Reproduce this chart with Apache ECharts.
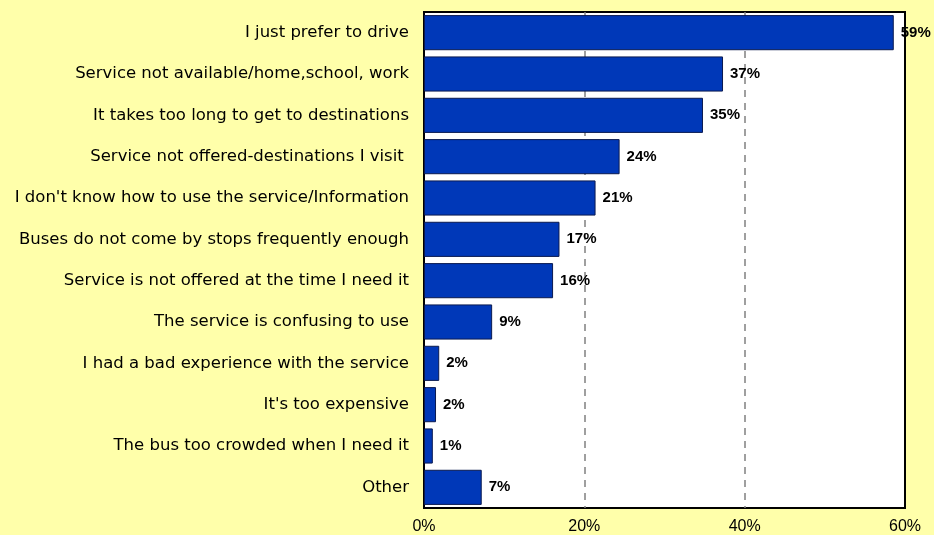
<!DOCTYPE html>
<html><head><meta charset="utf-8">
<script src="https://cdn.jsdelivr.net/npm/echarts@6/dist/echarts.min.js"></script>
<style>html,body{margin:0;padding:0;background:#FFFFAA;}#c{width:934px;height:535px;}</style>
</head><body><div id="c"></div>
<script>
const categories = [
  "I just prefer to drive",
  "Service not available/home,school, work",
  "It takes too long to get to destinations",
  "Service not offered-destinations I visit ",
  "I don't know how to use the service/Information",
  "Buses do not come by stops frequently enough",
  "Service is not offered at the time I need it",
  "The service is confusing to use",
  "I had a bad experience with the service",
  "It's too expensive",
  "The bus too crowded when I need it",
  "Other"
];
const values = [58.6, 37.3, 34.8, 24.4, 21.4, 16.9, 16.1, 8.5, 1.9, 1.5, 1.1, 7.2];
const labels = ["59%", "37%", "35%", "24%", "21%", "17%", "16%", "9%", "2%", "2%", "1%", "7%"];
const xTicks = [0, 20, 40, 60];

const chart = echarts.init(document.getElementById('c'));
chart.setOption({
  backgroundColor: '#FFFFAA',
  animation: false,
  grid: {left: 424, top: 12, right: 29, bottom: 26, show: true, backgroundColor: '#ffffff', borderColor: '#000', borderWidth: 2},
  xAxis: {
    type: 'value', min: xTicks[0], max: xTicks[xTicks.length-1], interval: 20,
    axisLine: {show: false}, axisTick: {show: false},
    axisLabel: {formatter: v => v + '%', color: '#000', fontFamily: 'Liberation Sans, Arial', fontSize: 16, margin: 11},
    splitLine: {show: true, showMinLine: false, showMaxLine: false, lineStyle: {color: '#808080', type: [7, 6], width: 1.5}}
  },
  yAxis: {
    type: 'category', data: categories, inverse: true,
    axisLine: {show: false}, axisTick: {show: false},
    axisLabel: {color: '#000', fontFamily: 'DejaVu Sans', fontSize: 16.5, margin: 15}
  },
  series: [{
    type: 'bar', data: values, barCategoryGap: '15%',
    itemStyle: {color: '#0038B8', borderColor: '#0a1a50', borderWidth: 1},
    label: {show: true, position: 'right', distance: 7, color: '#000', fontWeight: 'bold',
      fontFamily: 'Liberation Sans, Arial', fontSize: 15,
      formatter: p => labels[p.dataIndex]}
  }]
});
</script></body></html>
